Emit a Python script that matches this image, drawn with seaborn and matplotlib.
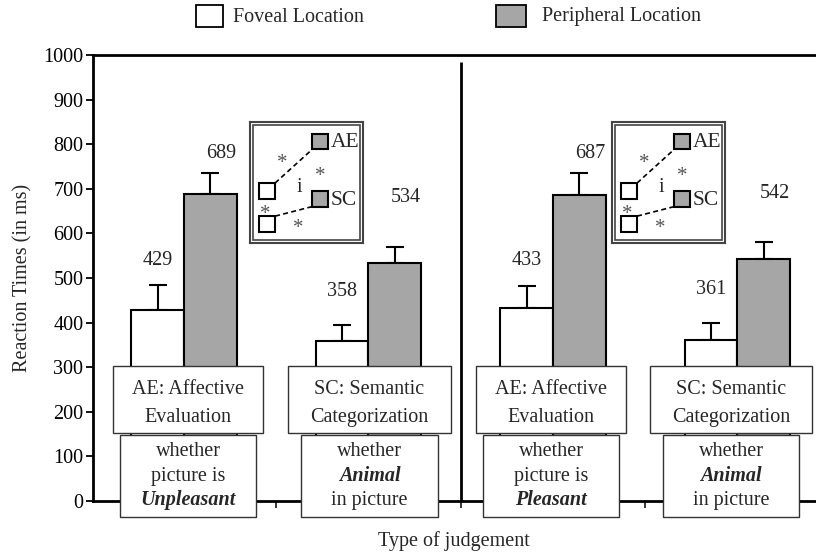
import matplotlib
matplotlib.use('Agg')
from matplotlib import pyplot as plt
from matplotlib.patches import Rectangle
import pandas as pd
import seaborn as sns

# data
groups = ["AE-Unpleasant", "SC-Unpleasant", "AE-Pleasant", "SC-Pleasant"]
locations = ["Foveal Location", "Peripheral Location"]
foveal = [429, 358, 433, 361]
peripheral = [689, 534, 687, 542]
foveal_err = [55, 36, 50, 39]
peripheral_err = [46, 35, 48, 38]
task_names = [["AE: Affective", "Evaluation"], ["SC: Semantic", "Categorization"],
              ["AE: Affective", "Evaluation"], ["SC: Semantic", "Categorization"]]
task_desc = [["whether", "picture is", "Unpleasant"], ["whether", "Animal", "in picture"],
             ["whether", "picture is", "Pleasant"], ["whether", "Animal", "in picture"]]
bold_line = [2, 1, 2, 1]
yticks = list(range(0, 1001, 100))

# layout (not data)
label_y = {"Foveal Location": [540, 470, 540, 475], "Peripheral Location": [780, 680, 780, 690]}
GRAY = "#a6a6a6"
FS = 14.5

sns.set_theme(style="ticks")
plt.rcParams['font.family'] = ['Liberation Serif', 'DejaVu Serif']

df = pd.DataFrame({
    "group": groups * 2,
    "location": [locations[0]] * 4 + [locations[1]] * 4,
    "rt": foveal + peripheral,
})

fig = plt.figure(figsize=(8.16, 5.57), dpi=100)
ax = fig.add_axes([93 / 816, 1 - 501 / 557, (816 - 93) / 816, (501 - 55) / 557])

sns.barplot(data=df, x="group", y="rt", hue="location", order=groups, hue_order=locations,
            palette=["white", GRAY], edgecolor="black", linewidth=1.5, width=0.57, gap=0,
            saturation=1, errorbar=None, legend=False, ax=ax, zorder=3)

# upward-only error bars + value labels
errs = {locations[0]: foveal_err, locations[1]: peripheral_err}
bars = sorted(ax.patches, key=lambda p: p.get_x())
for k, p in enumerate(bars):
    gi, hi = divmod(k, 2)
    loc = locations[hi]
    cx = p.get_x() + p.get_width() / 2
    h = p.get_height()
    e = errs[loc][gi]
    ax.errorbar(cx, h, yerr=[[0], [e]], fmt="none", ecolor="black", elinewidth=1.5,
                capsize=6.5, capthick=1.5, zorder=2)
    dx = 0.06 if hi == 1 else 0
    ax.text(cx + dx, label_y[loc][gi], str(int(h)), ha="center", va="center", fontsize=FS)

ax.set_xlim(-0.4932, 3.4255)
ax.set_ylim(0, 1000)
ax.set_yticks(yticks)
ax.set_xticks([0.5, 1.5, 2.5])
ax.set_xticklabels([])
ax.tick_params(axis="y", direction="out", length=5, width=1.3, labelsize=FS, pad=2, colors="black")
ax.tick_params(axis="x", direction="out", length=5, width=1.3)
for s in ["left", "bottom", "top"]:
    ax.spines[s].set_linewidth(2)
    ax.spines[s].set_color("black")
ax.spines["right"].set_visible(False)
ax.set_xlabel("")
ax.set_ylabel("Reaction Times (in ms)", fontsize=FS, labelpad=8)
ax.vlines(1.5, 0, 985, color="black", lw=2, zorder=1)

# task boxes under the bars
box_cx = [0.022, 1.005, 1.99, 2.965]
upper_hw = [0.407, 0.44, 0.407, 0.44]
for i in range(4):
    cx = box_cx[i]
    ax.add_patch(Rectangle((cx - upper_hw[i], 152), 2 * upper_hw[i], 151, facecolor="white",
                           edgecolor="#333333", lw=1, clip_on=False, zorder=6))
    for txt, yy in zip(task_names[i], [251, 188]):
        ax.text(cx, yy, txt, ha="center", va="center", fontsize=FS, zorder=7, clip_on=False)
    ax.add_patch(Rectangle((cx - 0.37, -36), 0.74, 184, facecolor="white",
                           edgecolor="#333333", lw=1, clip_on=False, zorder=6))
    for j, (txt, yy) in enumerate(zip(task_desc[i], [110, 56, 2])):
        kw = dict(fontweight="bold", fontstyle="italic") if j == bold_line[i] else {}
        ax.text(cx, yy, txt, ha="center", va="center", fontsize=FS, zorder=7, clip_on=False, **kw)

# schematic insets
for x0 in [0.358, 2.320]:
    ins = ax.inset_axes([x0, 578, 0.613, 272], transform=ax.transData, zorder=8)
    ins.set_xlim(0, 113)
    ins.set_ylim(121, 0)
    ins.set_xticks([])
    ins.set_yticks([])
    for s in ins.spines.values():
        s.set_linewidth(1.5)
        s.set_color("#444444")
    ins.add_patch(Rectangle((3, 3), 107, 115, fill=False, edgecolor="#444444", lw=1.2))
    for (sx, sy, fc) in [(62, 12, GRAY), (9, 61, "white"), (62, 69, GRAY), (9, 94, "white")]:
        ins.add_patch(Rectangle((sx, sy), 16, 15.5, facecolor=fc, edgecolor="black", lw=1.5, zorder=3))
    ins.plot([25, 62], [61, 27.5], color="black", lw=1.2, ls=(0, (3, 2)))
    ins.plot([25, 62], [94, 84.5], color="black", lw=1.2, ls=(0, (3, 2)))
    ins.text(81, 21, "AE", fontsize=FS + 1, va="center", ha="left")
    ins.text(81, 78, "SC", fontsize=FS + 1, va="center", ha="left")
    ins.text(49, 65, "i", fontsize=FS, va="center", ha="center")
    for (ax_, ay_) in [(32, 41), (70, 54), (15, 92), (48, 106)]:
        ins.text(ax_, ay_, "*", fontsize=15, va="center", ha="center", color="#555555", zorder=4)

# legend row at the top
fig.patches.append(Rectangle((196 / 816, 1 - 27 / 557), 27 / 816, 22 / 557, transform=fig.transFigure,
                             facecolor="white", edgecolor="black", lw=1.3, figure=fig))
fig.patches.append(Rectangle((496 / 816, 1 - 27 / 557), 30 / 816, 22 / 557, transform=fig.transFigure,
                             facecolor=GRAY, edgecolor="black", lw=1.3, figure=fig))
fig.text(233 / 816, 1 - 17 / 557, locations[0], fontsize=FS, va="center", ha="left")
fig.text(542 / 816, 1 - 17 / 557, locations[1], fontsize=FS, va="center", ha="left")
fig.text(454 / 816, 1 - 541 / 557, "Type of judgement", fontsize=FS, va="center", ha="center")

fig.savefig("out.png", dpi=100)
